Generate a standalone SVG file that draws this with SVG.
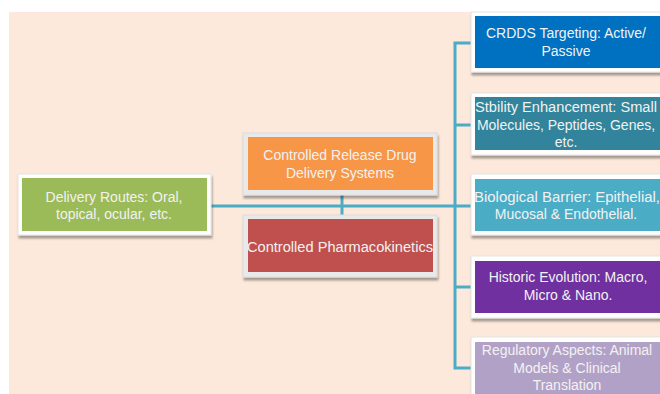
<svg xmlns="http://www.w3.org/2000/svg" width="660" height="394" viewBox="0 0 660 394">
<defs>
<filter id="sh" x="-10%" y="-10%" width="130%" height="140%">
<feGaussianBlur in="SourceAlpha" stdDeviation="1.2"/>
<feOffset dx="1" dy="3" result="b"/>
<feComponentTransfer><feFuncA type="linear" slope="0.35"/></feComponentTransfer>
<feMerge><feMergeNode/><feMergeNode in="SourceGraphic"/></feMerge>
</filter>
<style>
.frame{fill:#ffffff;stroke:#e4e4e4;stroke-width:1;filter:url(#sh)}
.gframe{fill:#e9e9e9;stroke:#dcdcdc;stroke-width:1;filter:url(#sh)}
.t{font-family:"Liberation Sans",Arial,sans-serif;font-size:14px;fill:#f2f2f2;text-anchor:middle}
.c{stroke:#4bacc6;stroke-width:3;fill:none}
</style>
</defs>
<rect x="0" y="0" width="660" height="394" fill="#ffffff"/>
<rect x="9" y="12" width="651" height="382" fill="#fce9db"/>
<g id="connectors">
<line class="c" x1="209" y1="206" x2="472" y2="206"/>
<line class="c" x1="342" y1="195" x2="342" y2="218"/>
<polyline class="c" points="472,43 455,43 455,368 472,368"/>
<line class="c" x1="455" y1="125" x2="472" y2="125"/>
<line class="c" x1="455" y1="287" x2="472" y2="287"/>
</g>
<g id="delivery">
<rect class="frame" x="18" y="174" width="193" height="61"/>
<rect x="22" y="178" width="185" height="53" fill="#9bbb59"/>
<text class="t" x="114" y="202">Delivery Routes:  Oral,</text>
<text class="t" x="114" y="219">topical, ocular, etc.</text>
</g>
<g id="crdds-release">
<rect class="gframe" x="243" y="133" width="194" height="62"/>
<rect x="248" y="137" width="185" height="53" fill="#f79646"/>
<text class="t" x="340" y="160">Controlled Release Drug</text>
<text class="t" x="340" y="178">Delivery Systems</text>
</g>
<g id="pharmacokinetics">
<rect class="gframe" x="243" y="215" width="194" height="62"/>
<rect x="248" y="219" width="185" height="53" fill="#c0504d"/>
<text class="t" x="340" y="252" textLength="186" lengthAdjust="spacingAndGlyphs">Controlled Pharmacokinetics</text>
</g>
<g id="targeting">
<rect class="frame" x="471" y="12" width="195" height="60"/>
<rect x="475" y="16" width="190" height="52" fill="#0070c0"/>
<text class="t" x="566" y="38">CRDDS Targeting: Active/</text>
<text class="t" x="566" y="56">Passive</text>
</g>
<g id="stability">
<rect class="frame" x="471" y="93" width="195" height="62"/>
<rect x="475" y="97" width="190" height="53" fill="#31849b"/>
<text class="t" x="566" y="112" textLength="182" lengthAdjust="spacingAndGlyphs">Stbility Enhancement:  Small</text>
<text class="t" x="566" y="130">Molecules, Peptides, Genes,</text>
<text class="t" x="566" y="147">etc.</text>
</g>
<g id="barrier">
<rect class="frame" x="471" y="174" width="195" height="61"/>
<rect x="475" y="179" width="190" height="52" fill="#4bacc6"/>
<text class="t" x="567" y="202" textLength="186" lengthAdjust="spacingAndGlyphs">Biological Barrier: Epithelial,</text>
<text class="t" x="566" y="219">Mucosal &amp; Endothelial.</text>
</g>
<g id="historic">
<rect class="frame" x="471" y="256" width="195" height="62"/>
<rect x="475" y="261" width="190" height="52" fill="#7030a0"/>
<text class="t" x="568" y="282">Historic Evolution: Macro,</text>
<text class="t" x="568" y="300">Micro &amp; Nano.</text>
</g>
<g id="regulatory">
<rect class="frame" x="471" y="337" width="195" height="62"/>
<rect x="475" y="342" width="190" height="57" fill="#b2a1c7"/>
<text class="t" x="567" y="355">Regulatory Aspects: Animal</text>
<text class="t" x="567" y="373">Models &amp; Clinical</text>
<text class="t" x="567" y="390">Translation</text>
</g>
</svg>
